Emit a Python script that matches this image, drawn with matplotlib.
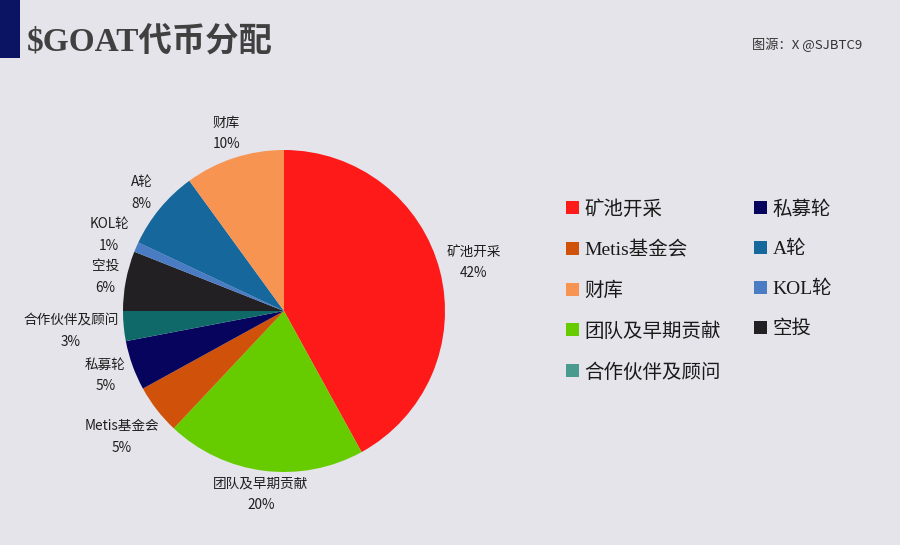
import numpy as np
import matplotlib
matplotlib.use('Agg')
import matplotlib.pyplot as plt
from matplotlib.patches import Rectangle, Patch

plt.rcParams['font.family'] = ['Noto Sans CJK SC', 'DejaVu Sans']

############################
names = ['矿池开采', '团队及早期贡献', 'Metis基金会', '私募轮', '合作伙伴及顾问',
         '空投', 'KOL轮', 'A轮', '财库']
shares = [42, 20, 5, 5, 3, 6, 1, 8, 10]
colors = ['#ff1a1a', '#66cc00', '#d0520a', '#07045e', '#0f6969',
          '#222022', '#4a7cc4', '#16689c', '#f79452']
legend_order = ['矿池开采', '私募轮', 'Metis基金会', 'A轮', '财库', 'KOL轮',
                '团队及早期贡献', '空投', '合作伙伴及顾问']
legend_teal = '#4a9a90'
title = '$GOAT代币分配'
source = '图源：X @SJBTC9'
bg = '#e4e4ea'
############################

W, H = 900, 545
fig = plt.figure(figsize=(9, 5.45), dpi=100, facecolor=bg)

# navy bar top-left
fig.patches.append(Rectangle((0, 1 - 58 / H), 20 / W, 58 / H, transform=fig.transFigure,
                             facecolor='#0b1462', edgecolor='none'))
fig.text(27 / W, 1 - 42 / H, title, fontsize=24, fontweight='bold', color='#404040',
         family=['Liberation Serif', 'Noto Sans CJK SC'], va='center', ha='left')
fig.text(862 / W, 1 - 45 / H, source, fontsize=9.5, color='#333333',
         va='center', ha='right')

# pie axes, center at (284, 311) px, radius 161 px
R = 161
S = 225
ax = fig.add_axes([(284 - S) / W, (H - 311 - S) / H, 2 * S / W, 2 * S / H])
wedges, _ = ax.pie(shares, colors=colors, startangle=90, counterclock=False, radius=1,
                   wedgeprops=dict(linewidth=0))
ax.set_xlim(-S / R, S / R)
ax.set_ylim(-S / R, S / R)
ax.set_aspect('equal')
ax.axis('off')

texts = []
for w, n, v in zip(wedges, names, shares):
    t = ax.text(0, 0, f'{n}\n{v}%', ha='center', va='center', fontsize=9.8,
                color='#1e1e1e', linespacing=1.7)
    texts.append(t)

fig.canvas.draw()
renderer = fig.canvas.get_renderer()
gap = 4
for w, t in zip(wedges, texts):
    ang = np.deg2rad((w.theta1 + w.theta2) / 2)
    bb = t.get_window_extent(renderer)
    hw, hh = bb.width / 2, bb.height / 2
    d = R
    while True:
        cx, cy = d * np.cos(ang), d * np.sin(ang)
        nx = max(abs(cx) - hw, 0)
        ny = max(abs(cy) - hh, 0)
        if np.hypot(nx, ny) >= R + gap:
            break
        d += 0.5
    t.set_position((d * np.cos(ang) / R, d * np.sin(ang) / R))

# legend in row-major order
handles = []
for n in legend_order:
    c = colors[names.index(n)]
    if n == '合作伙伴及顾问':
        c = legend_teal
    handles.append(Patch(facecolor=c, edgecolor='none', label=n))
left = handles[0::2]
right = handles[1::2]
ordered = left + right
leg = fig.legend(handles=ordered, labels=[h.get_label() for h in ordered], ncol=2,
                 loc='upper left', bbox_to_anchor=(566 / W, 1 - 200 / H), frameon=False,
                 prop={'family': ['Liberation Serif', 'Noto Sans CJK SC'], 'size': 14},
                 handlelength=0.65, handleheight=0.65, handletextpad=0.3,
                 labelspacing=1.15, columnspacing=1.7, borderpad=0, borderaxespad=0)
for txt in leg.get_texts():
    txt.set_color('#1a1a1a')

fig.savefig('out.png', dpi=100, facecolor=bg)
